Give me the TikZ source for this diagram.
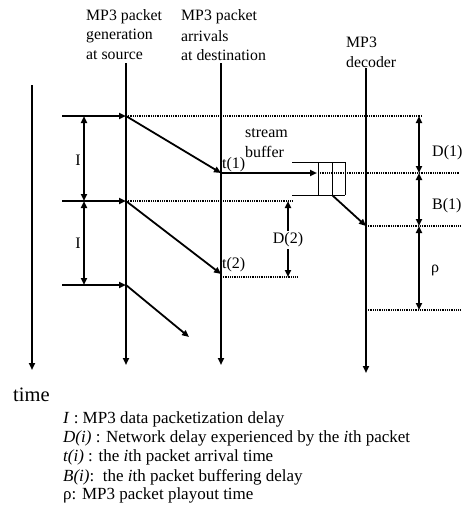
\documentclass[tikz,border=0pt]{standalone}
\usepackage{fontspec}
\setmainfont{Liberation Serif}
\usetikzlibrary{arrows.meta}
\begin{document}
\begin{tikzpicture}[x=1pt,y=-1pt,
  axis/.style={line width=1.8pt,-{Triangle[length=7pt,width=6pt]}},
  flow/.style={line width=1.8pt,-{Triangle[length=7pt,width=6pt]}},
  span/.style={line width=1.8pt,{Triangle[length=7pt,width=6pt]}-{Triangle[length=7pt,width=6pt]}},
  tip/.style={line width=1.8pt,-{Triangle[length=7pt,width=6pt]}},
  guide/.style={line width=1.4pt,dash pattern=on 1pt off 0.8pt},
  buf/.style={line width=0.9pt},
  head/.style={font=\fontsize{15.8}{19}\selectfont,anchor=west,inner sep=0pt},
  lbl/.style={font=\fontsize{16}{19}\selectfont,inner sep=0pt},
  leg/.style={font=\fontsize{17}{19}\selectfont,anchor=west,inner sep=0pt}]
\useasboundingbox (0,0) rectangle (465,512);

% column headers
\node[head] (hsrc1) at (86,17) {MP3 packet};
\node[head] (hsrc2) at (86,36) {generation};
\node[head] (hsrc3) at (86,55) {at source};
\node[head] (hdst1) at (181,17) {MP3 packet};
\node[head] (hdst2) at (181,36) {arrivals};
\node[head] (hdst3) at (181,55) {at destination};
\node[head] (hdec1) at (346,42) {MP3};
\node[head] (hdec2) at (346,62) {decoder};

% time lines
\coordinate (t0) at (32,85);   \coordinate (t1) at (32,370);
\coordinate (s0) at (126,63);  \coordinate (s1) at (126,365);
\coordinate (d0) at (221,63);  \coordinate (d1) at (221,365);
\coordinate (p0) at (366,68);  \coordinate (p1) at (366,373);
\draw[axis] (t0) -- (t1);
\draw[axis] (s0) -- (s1);
\draw[axis] (d0) -- (d1);
\draw[axis] (p0) -- (p1);

% packet generation instants
\coordinate (g1) at (126,116); \coordinate (g2) at (126,201); \coordinate (g3) at (126,285);
\coordinate (e1) at (62,116);  \coordinate (e2) at (62,201);  \coordinate (e3) at (62,285);
\draw[flow] (e1) -- (g1);
\draw[flow] (e2) -- (g2);
\draw[flow] (e3) -- (g3);

% packetization delay
\coordinate (i1) at (84,116); \coordinate (i2) at (84,201); \coordinate (i3) at (84,285);
\draw[span] (i1) -- (i2);
\draw[span] (i2) -- (i3);
\node[lbl] (li1) at (78,160) {I};
\node[lbl] (li2) at (78,243) {I};

% arrivals at destination
\coordinate (a1) at (221,173); \coordinate (a2) at (221,274); \coordinate (a3) at (189,337);
\draw[tip] (g1) -- (a1);
\draw[tip] (g2) -- (a2);
\draw[tip] (g3) -- (a3);
\node[lbl,anchor=west] (lt1) at (222,165) {t(1)};
\node[lbl,anchor=west] (lt2) at (222,265) {t(2)};

% stream buffer
\coordinate (b1) at (317,173);
\draw[tip] (a1) -- (b1);
\draw[buf] (292,162) -- (345,162);
\draw[buf] (292,195) -- (345,195);
\draw[buf] (318,162) -- (318,195);
\draw[buf] (332,162) -- (332,195);
\draw[buf] (345,162) -- (345,195);
\coordinate (bo) at (332,195); \coordinate (pl) at (366,226);
\draw[tip] (bo) -- (pl);
\node[lbl,anchor=west] (lsb1) at (245,133) {stream};
\node[lbl,anchor=west] (lsb2) at (245,152) {buffer};

% dotted reference levels
\draw[guide] (g1) -- (422,116);
\draw[guide] (318,173) -- (460,173);
\draw[guide] (g2) -- (293,201);
\draw[guide] (221,277) -- (298,277);
\draw[guide] (pl) -- (460,226);
\draw[guide] (366,310) -- (460,310);

% delays at decoder
\coordinate (r0) at (419,116); \coordinate (r1) at (419,173);
\coordinate (r2) at (419,226); \coordinate (r3) at (419,310);
\draw[span] (r0) -- (r1);
\draw[span] (r1) -- (r2);
\draw[span] (r2) -- (r3);
\node[lbl,anchor=west] (ld1) at (432,153) {D(1)};
\node[lbl,anchor=west] (lb1) at (432,206) {B(1)};
\node[lbl,anchor=west] (lrho) at (431,270) {ρ};

% network delay of packet 2
\node[lbl,inner sep=2pt] (ld2) at (288,240) {D(2)};
\coordinate (q0) at (288,201); \coordinate (q1) at (288,277);
\draw[tip] (ld2.north) -- (q0);
\draw[tip] (ld2.south) -- (q1);

% time axis label and legend
\node[font=\fontsize{20.5}{22}\selectfont,anchor=west,inner sep=0pt] (ltime) at (13,395) {time};
\node[leg] (lg1) at (63,419) {\textit{I} : MP3 data packetization delay};
\node[leg] (lg2) at (63,438) {\textit{D(i)} : Network delay experienced by the \textit{i}th packet};
\node[leg] (lg3) at (63,457) {\textit{t(i)} : the \textit{i}th packet arrival time};
\node[leg] (lg4) at (63,477) {\textit{B(i)}:\ \ the \textit{i}th packet buffering delay};
\node[leg] (lg5) at (63,495) {ρ: MP3 packet playout time};
\end{tikzpicture}
\end{document}
